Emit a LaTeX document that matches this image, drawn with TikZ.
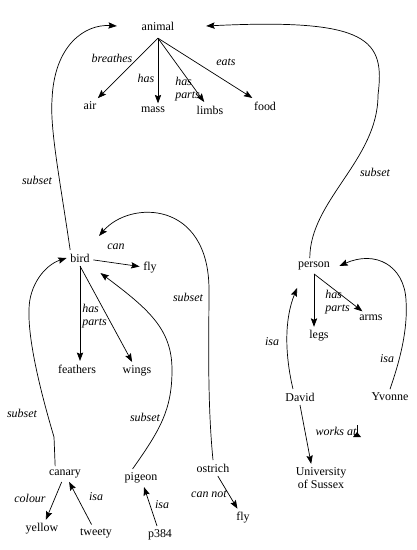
\documentclass[tikz,border=0pt]{standalone}
\usepackage{fontspec}
\setmainfont{Liberation Serif}
\usetikzlibrary{arrows.meta}

\begin{document}
\begin{tikzpicture}[x=0.025cm,y=-0.025cm,
  concept/.style={inner sep=2.5pt,font=\fontsize{8.5}{9}\selectfont,align=center},
  rel/.style={inner sep=0pt,font=\fontsize{8.5}{9}\selectfont\itshape,align=left},
  arr/.style={-{Stealth[length=6pt,width=4.5pt,inset=1pt]},line width=0.5pt}]
\useasboundingbox (0,0) rectangle (416,550);
\node[concept] (animal) at (158,26) {animal};
\node[concept] (air) at (90,106) {air};
\node[concept] (mass) at (153,110) {mass};
\node[concept] (limbs) at (210,110) {limbs};
\node[concept] (food) at (265,106) {food};
\node[concept] (bird) at (80,258) {bird};
\node[concept] (fly1) at (150,268) {fly};
\node[concept] (feathers) at (77,369) {feathers};
\node[concept] (wings) at (137,371) {wings};
\node[concept] (person) at (314,266) {person};
\node[concept] (legs) at (319,336) {legs};
\node[concept] (arms) at (371,318) {arms};
\node[concept] (david) at (300,397) {David};
\node[concept] (yvonne) at (390,397) {Yvonne};
\node[concept] (sussex) at (321,478) {University\\of Sussex};
\node[concept] (canary) at (65,474) {canary};
\node[concept] (pigeon) at (141,478) {pigeon};
\node[concept] (ostrich) at (213,468) {ostrich};
\node[concept] (yellow) at (42,529) {yellow};
\node[concept] (tweety) at (96,533) {tweety};
\node[concept] (p384) at (160,535) {p384};
\node[concept] (fly2) at (243,518) {fly};
\coordinate (fork) at ([yshift=-3pt]animal.south);
\draw[arr] (fork) -- (air);
\draw[arr] (fork) -- (fork |- mass.north);
\draw[arr] (fork) -- (limbs);
\draw[arr] (fork) -- (food);
\draw[arr] (bird) -- (fly1);
\draw[arr] (bird.south) -- (bird.south |- feathers.north);
\draw[arr] (bird.south) -- (wings);
\draw[arr] (person.south) -- (person.south |- legs.north);
\draw[arr] (person.south) -- (arms);
\draw[arr] (david.south) -- ([xshift=-7pt]sussex.north);
\draw[arr] (canary) -- (yellow);
\draw[arr] (tweety) -- (canary);
\draw[arr] (p384) -- (pigeon);
\draw[arr] (ostrich) -- (fly2);
\draw[arr] ([xshift=-7pt]bird.north) .. controls (60,180) and (50,130) .. (52,100)
  .. controls (54,45) and (85,24) .. ([xshift=-15pt]animal.west);
\draw[arr] ([xshift=-3pt]person.north) .. controls (310,200) and (378,160) .. (378,95)
  .. controls (385,40) and (370,18) .. ([xshift=20pt]animal.east);
\draw[arr] (ostrich.north) .. controls (207,400) and (209,330) .. (209,290)
  .. controls (209,200) and (130,200) .. ([shift={(4pt,10pt)}]bird.north east);
\draw[arr] ([xshift=-7pt]canary.north) -- (54,437) .. controls (40,390) and (28,340) .. (29,310)
  .. controls (29,285) and (45,265) .. (bird.west);
\draw[arr] ([xshift=-6pt]pigeon.north) .. controls (160,430) and (172,410) .. (172,370)
  .. controls (172,330) and (150,310) .. ([shift={(5pt,-5pt)}]bird.south east);
\draw[arr] ([xshift=-5pt]david.north) .. controls (285,355) and (284,320) .. ([shift={(-12pt,-10pt)}]person.south);
\draw[arr] (yvonne.north) .. controls (400,360) and (408,330) .. (406,300)
  .. controls (404,265) and (375,250) .. ([xshift=4pt]person.east);
\node[rel] (l1) at (112,58) {breathes};
\node[rel] (l2) at (146,78) {has};
\node[rel,anchor=west] (l3) at (175,89) {has\\parts};
\node[rel] (l4) at (226,62) {eats};
\node[rel] (l5) at (37,180) {subset};
\node[rel] (l6) at (375,172) {subset};
\node[rel] (l7) at (116,247) {can};
\node[rel,anchor=west] (l8) at (82,316) {has\\parts};
\node[rel] (l9) at (188,297) {subset};
\node[rel,anchor=west] (l10) at (325,302) {has\\parts};
\node[rel] (l11) at (272,342) {isa};
\node[rel] (l12) at (387,359) {isa};
\node[rel] (l13) at (22,413) {subset};
\node[rel] (l14) at (145,417) {subset};
\node[rel] (l15) at (336,431) {works at};
\node[rel] (l16) at (30,498) {colour};
\node[rel] (l17) at (96,497) {isa};
\node[rel] (l18) at (162,505) {isa};
\node[rel] (l19) at (209,494) {can not};
\draw (357,425) -- (357,436);
\fill (353,437) -- (357,432) -- (361,437) -- cycle;
\end{tikzpicture}
\end{document}
